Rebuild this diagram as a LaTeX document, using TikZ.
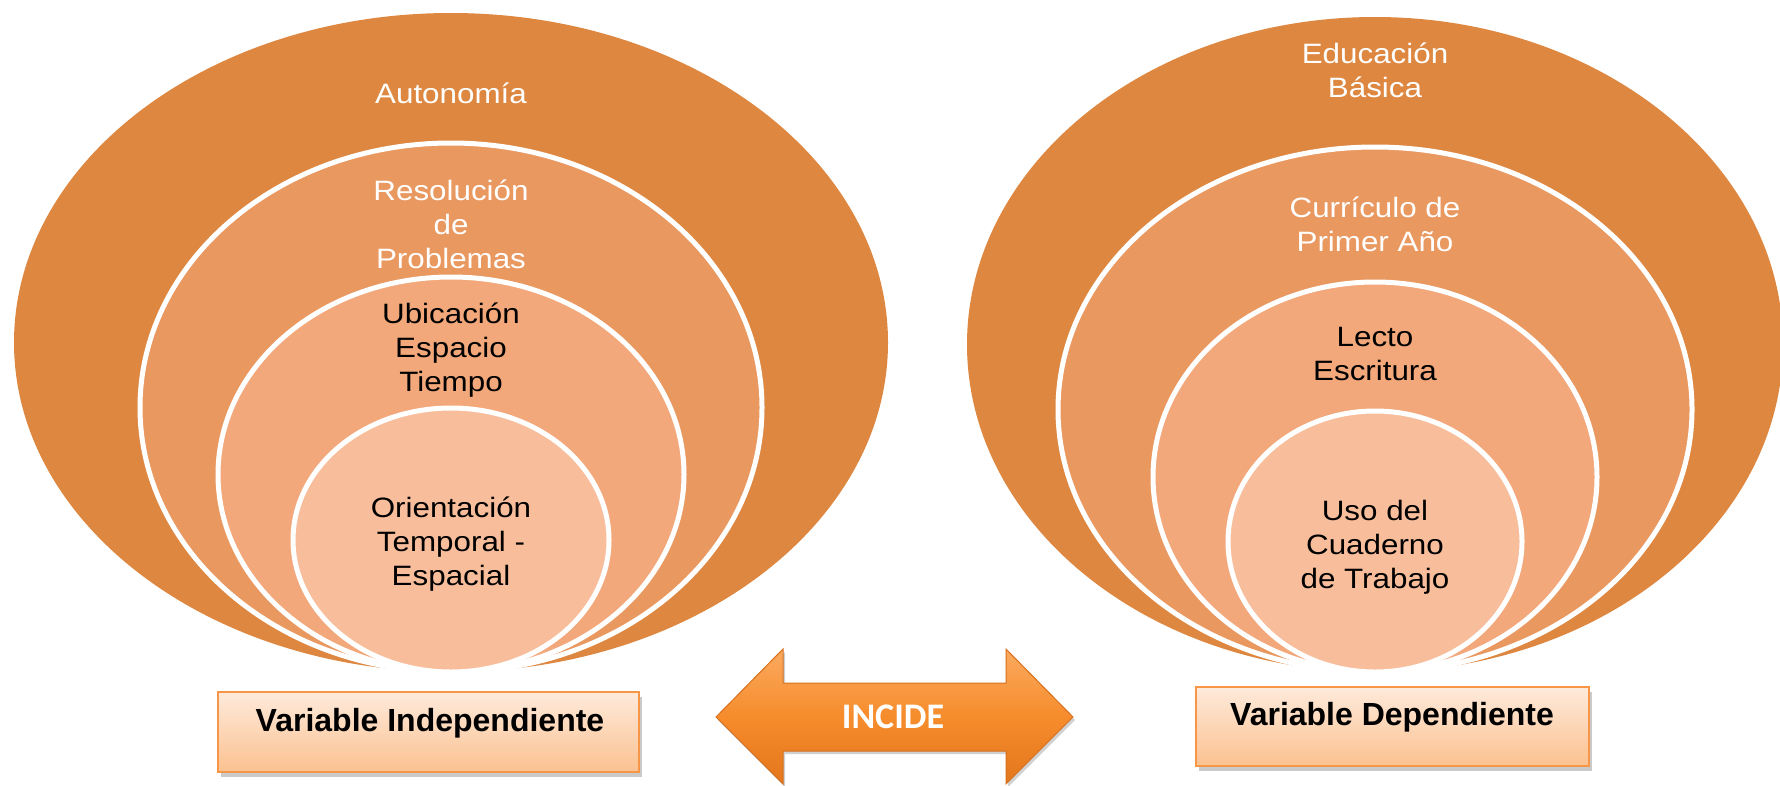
\documentclass[tikz,border=0pt]{standalone}
\usepackage{fontspec}
\setmainfont{Liberation Sans}
\newfontfamily\ringfont[FakeStretch=1.12]{Liberation Sans}
\newfontfamily\arrowfont{Carlito}
\usetikzlibrary{shapes.geometric,shadows}
\definecolor{ringA}{RGB}{222,135,64}
\definecolor{ringB}{RGB}{233,152,95}
\definecolor{ringC}{RGB}{242,168,122}
\definecolor{ringD}{RGB}{248,190,156}
\definecolor{boxtop}{RGB}{254,234,219}
\definecolor{boxbot}{RGB}{251,193,144}
\definecolor{boxline}{RGB}{247,150,70}
\definecolor{arrtop}{RGB}{251,170,96}
\definecolor{arrmid}{RGB}{246,140,44}
\definecolor{arrbot}{RGB}{226,118,28}
\definecolor{arrline}{RGB}{214,112,30}
\tikzset{
  ring/.style={ellipse, inner sep=0pt, outer sep=0pt},
  inner ring/.style={ring, draw=white, line width=5pt},
  wlbl/.style={font=\ringfont\fontsize{28}{34}\selectfont, align=center, inner sep=0pt, text=white},
  blbl/.style={font=\ringfont\fontsize{28}{34}\selectfont, align=center, inner sep=0pt, text=black},
  varbox/.style={rectangle, draw=boxline, line width=2pt, top color=boxtop, bottom color=boxbot, inner sep=0pt,
     drop shadow={shadow xshift=3pt, shadow yshift=-5pt, opacity=0.35, fill=black!60}},
  vartext/.style={font=\bfseries\fontsize{32}{38}\selectfont, inner sep=0pt, text=black},
}
\begin{document}
\begin{tikzpicture}[x=1pt,y=-1pt]
\useasboundingbox (0,0) rectangle (1780,785);
\clip (0,0) rectangle (1780,785);

% left set
\node[ring, fill=ringA, minimum width=874pt, minimum height=659pt] (L1) at (451,342.5) {};
\node[inner ring, fill=ringB, minimum width=622pt, minimum height=529pt] (L2) at (451,407.5) {};
\node[inner ring, fill=ringC, minimum width=466pt, minimum height=395pt] (L3) at (451,474.5) {};
\node[inner ring, fill=ringD, minimum width=316pt, minimum height=264pt] (L4) at (451,540) {};

\node[wlbl] (tL1) at (451,93) {Autonomía};
\node[wlbl] (tL2) at (451,224) {Resolución\\de\\Problemas};
\node[blbl] (tL3) at (451,350) {Ubicación\\Espacio\\Tiempo};
\node[blbl] (tL4) at (451,544) {Orientación\\Temporal -\\Espacial};

% right set
\node[ring, fill=ringA, minimum width=816pt, minimum height=655pt] (R1) at (1375,344.5) {};
\node[inner ring, fill=ringB, minimum width=634pt, minimum height=525pt] (R2) at (1375,409.5) {};
\node[inner ring, fill=ringC, minimum width=444pt, minimum height=390pt] (R3) at (1375,477) {};
\node[inner ring, fill=ringD, minimum width=294pt, minimum height=261pt] (R4) at (1375,541.5) {};

\node[wlbl] (tR1) at (1375,70) {Educación\\Básica};
\node[wlbl] (tR2) at (1375,224.5) {Currículo de\\Primer Año};
\node[blbl] (tR3) at (1375,354) {Lecto\\Escritura};
\node[blbl] (tR4) at (1375,547) {Uso del\\Cuaderno\\de Trabajo};

% variable boxes
\node[varbox, minimum width=421pt, minimum height=80pt] (BL) at (428.5,732) {};
\node[vartext] (BLt) at (430,723) {Variable Independiente};
\node[varbox, minimum width=393pt, minimum height=79pt] (BR) at (1392.5,726.5) {};
\node[vartext] (BRt) at (1392,717) {Variable Dependiente};

% double arrow
\path[top color=arrtop, bottom color=arrbot, middle color=arrmid, draw=arrline, line width=1pt,
      drop shadow={shadow xshift=2pt, shadow yshift=-3pt, opacity=0.3, fill=black!60}]
  (716,717) -- (783,649) -- (783,683) -- (1006,683) -- (1006,649) -- (1073,717)
  -- (1006,784) -- (1006,751) -- (783,751) -- (783,784) -- cycle;
\node[font=\arrowfont\bfseries\fontsize{36}{40}\selectfont, text=white, inner sep=0pt] (inc) at (893,717) {INCIDE};
\end{tikzpicture}
\end{document}
